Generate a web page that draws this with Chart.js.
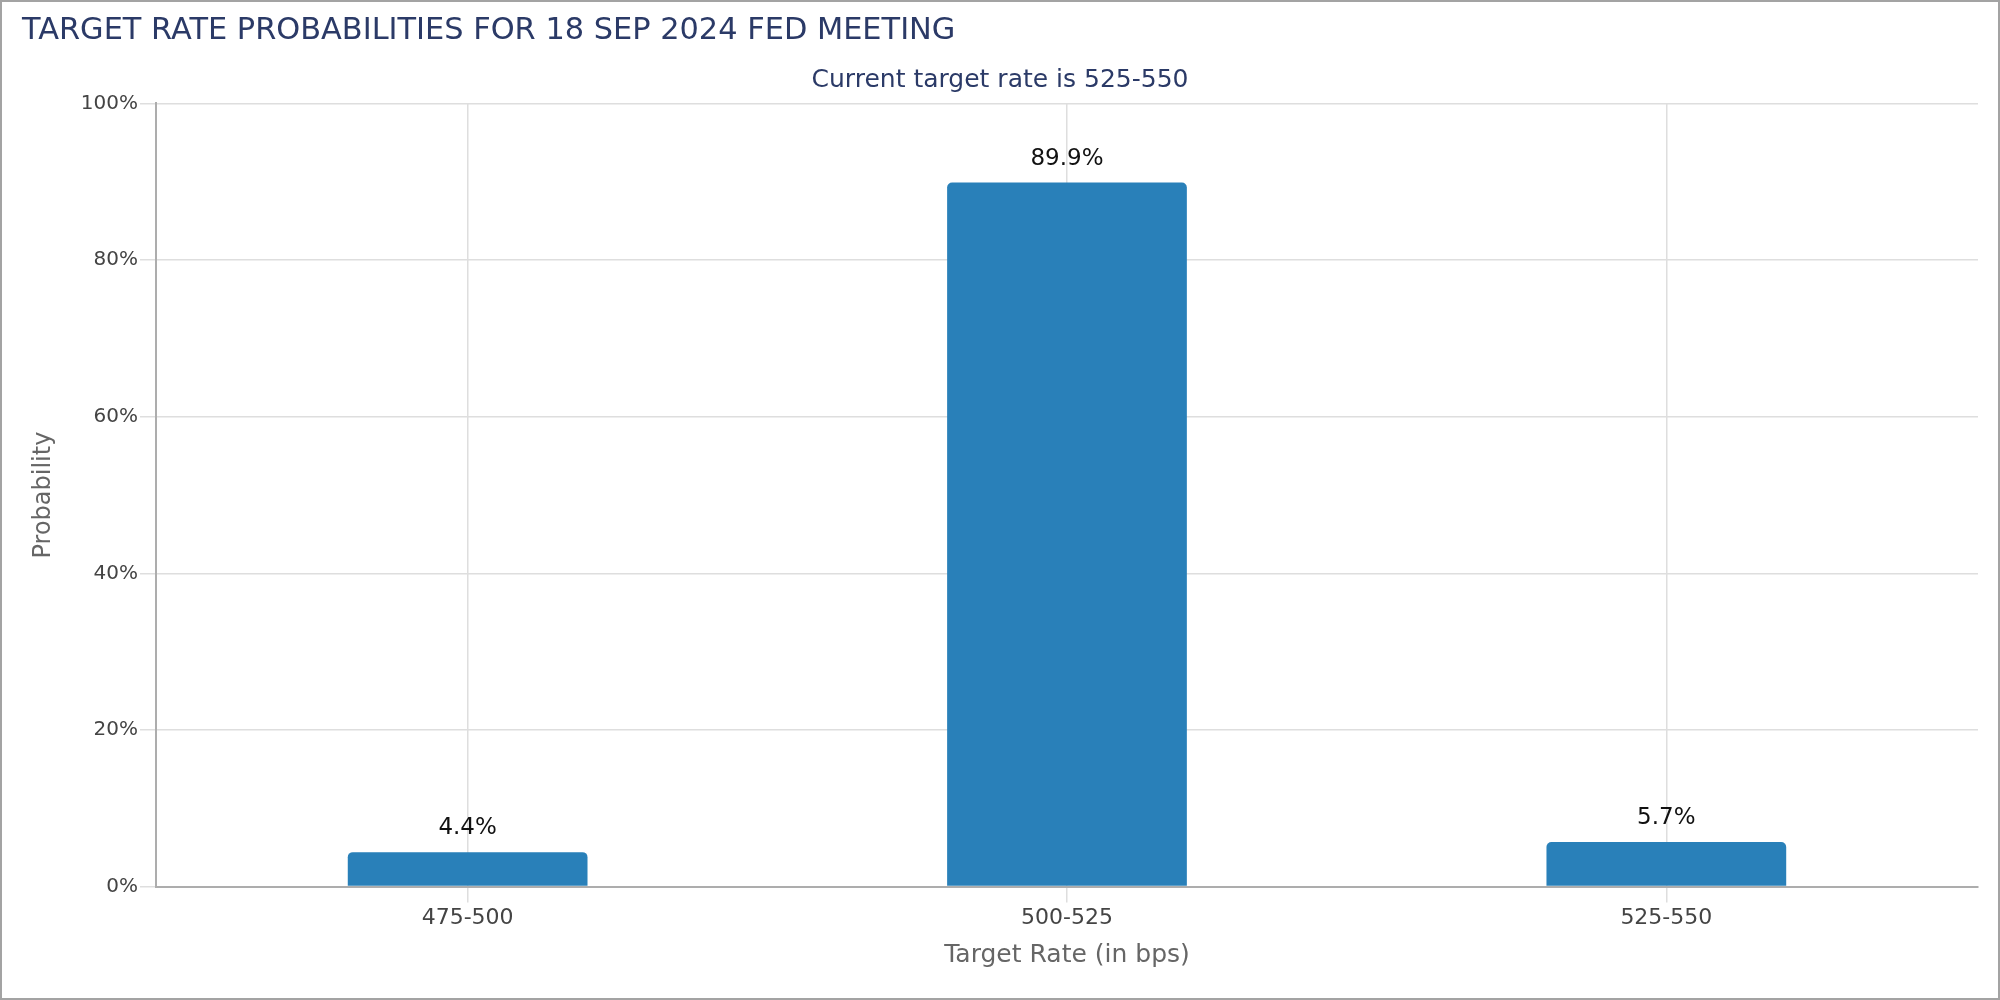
<!DOCTYPE html>
<html>
<head>
<meta charset="utf-8">
<script src="https://cdn.jsdelivr.net/npm/chart.js@4"></script>
<style>
  html, body { margin: 0; padding: 0; background: #fff; }
  #wrap { width: 2000px; height: 1000px; box-sizing: border-box; border: 2px solid #a3a3a3; }
  #chart { display: block; }
</style>
</head>
<body>
<div id="wrap"><canvas id="chart" width="1996" height="996"></canvas></div>
<script>
/* ── Data ─────────────────────────────────────────────── */
const rateBuckets   = ['475-500', '500-525', '525-550'];
const probabilities = [4.4, 89.9, 5.7];
const yTicks        = [0, 20, 40, 60, 80, 100];

const FONT  = "'DejaVu Sans', sans-serif";
const NAVY  = '#2b3a67';
const BAR   = '#2980b9';
const GRID  = '#dedede';
const AXIS  = '#adadad';

// Value labels above each bar
const barLabels = {
  id: 'barLabels',
  afterDatasetsDraw(chart) {
    const ctx = chart.ctx;
    const meta = chart.getDatasetMeta(0);
    ctx.save();
    ctx.font = `23px ${FONT}`;
    ctx.fillStyle = '#111';
    ctx.textAlign = 'center';
    ctx.textBaseline = 'middle';
    meta.data.forEach((bar, i) => {
      ctx.fillText(probabilities[i].toFixed(1) + '%', bar.x, bar.y - 24);
    });
    ctx.restore();
  }
};

new Chart(document.getElementById('chart'), {
  type: 'bar',
  data: {
    labels: rateBuckets,
    datasets: [{
      data: probabilities,
      backgroundColor: BAR,
      borderWidth: 0,
      borderRadius: { topLeft: 5, topRight: 5, bottomLeft: 0, bottomRight: 0 },
      borderSkipped: 'start',
      barPercentage: 0.4,
      categoryPercentage: 1
    }]
  },
  options: {
    responsive: false,
    animation: false,
    layout: { padding: { left: 20, right: 20, top: 0, bottom: 18 } },
    plugins: {
      legend: { display: false },
      tooltip: { enabled: false },
      title: {
        display: true,
        text: 'TARGET RATE PROBABILITIES FOR 18 SEP 2024 FED MEETING',
        align: 'start',
        color: NAVY,
        font: { family: FONT, size: 30.4, weight: 'normal' },
        padding: { top: 11, bottom: 6 }
      },
      subtitle: {
        display: true,
        text: 'Current target rate is 525-550',
        color: NAVY,
        font: { family: FONT, size: 25, weight: 'normal' },
        padding: { top: 10, bottom: 8 }
      }
    },
    scales: {
      x: {
        // a little extra room at both ends of the category axis
        afterUpdate: axis => { axis._startValue -= 0.02; axis._valueRange += 0.04; },
        grid: { offset: false, color: GRID, lineWidth: 1.5, tickLength: 16, tickColor: GRID },
        border: { color: AXIS, width: 2 },
        ticks: { color: '#444', padding: 2, font: { family: FONT, size: 22 } },
        title: {
          display: true,
          text: 'Target Rate (in bps)',
          color: '#666',
          font: { family: FONT, size: 25 },
          padding: { top: 7, bottom: 10 }
        }
      },
      y: {
        min: 0,
        max: 100,
        afterBuildTicks: axis => { axis.ticks = yTicks.map(v => ({ value: v })); },
        grid: { color: GRID, lineWidth: 1.5, tickLength: 16, tickColor: GRID },
        border: { color: AXIS, width: 2 },
        ticks: {
          color: '#444',
          padding: 2,
          font: { family: FONT, size: 20 },
          callback: v => v + '%'
        },
        title: {
          display: true,
          text: 'Probability',
          color: '#666',
          font: { family: FONT, size: 24 },
          padding: { top: 7, bottom: 21 }
        }
      }
    }
  },
  plugins: [barLabels]
});
</script>
</body>
</html>
